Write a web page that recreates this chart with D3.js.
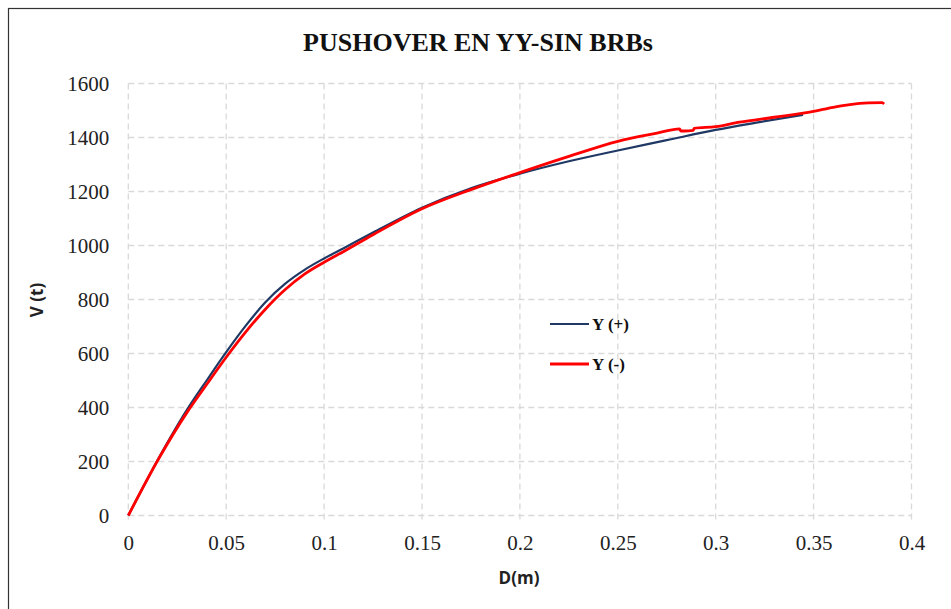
<!DOCTYPE html>
<html><head><meta charset="utf-8">
<script src="https://cdn.jsdelivr.net/npm/d3@7"></script>
<style>body{margin:0;background:#fff}svg{display:block}</style>
</head><body>
<svg id="c" width="951" height="609"></svg>
<script>
const title = "PUSHOVER EN YY-SIN BRBs";
const xTicks = [0,0.05,0.1,0.15,0.2,0.25,0.3,0.35,0.4];
const yTicks = [0,200,400,600,800,1000,1200,1400,1600];
const seriesNames = ["Y (+)","Y (-)"];
const seriesColors = ["#1f3864","#ff0000"];
const dPos = [0,0.0155,0.03,0.04,0.05,0.06,0.07,0.08,0.09,0.1,0.11,0.125,0.15,0.175,0.2,0.225,0.25,0.275,0.3,0.32,0.3446];
const vPos = [0,212,392,500,605,703,790,858,910,952,990,1048,1140,1212,1266,1312,1352,1390,1428,1454,1484];
const dNeg = [0,0.0155,0.03,0.04,0.05,0.06,0.07,0.08,0.09,0.1,0.11,0.125,0.15,0.175,0.2,0.225,0.25,0.27,0.2816,0.2822,0.2838,0.2885,0.289,0.3,0.3122,0.33,0.35,0.36,0.3685,0.378,0.385,0.386];
const vNeg = [0,210,382,485,586,680,764,836,894,938,978,1040,1136,1207,1270,1330,1386,1416,1432,1424,1424,1426,1434,1440,1457,1475,1497,1512,1522,1528,1529,1524];

const svg = d3.select("#c");
const m = {l:128.3, r:911.5, t:83.5, b:515.5};
const x = d3.scaleLinear().domain([0,0.4]).range([m.l,m.r]);
const y = d3.scaleLinear().domain([0,1600]).range([m.b,m.t]);

svg.append("rect").attr("x",8.5).attr("y",8.5).attr("width",960).attr("height",620)
  .attr("fill","none").attr("stroke","#333").attr("stroke-width",1.2);

const grid = svg.append("g");
grid.selectAll("line.h").data(yTicks).join("line")
  .attr("x1",m.l).attr("x2",m.r).attr("y1",d=>y(d)).attr("y2",d=>y(d))
  .attr("stroke","#d9d9d9").attr("stroke-width",1.3).attr("stroke-dasharray","6,4");
grid.selectAll("line.v").data(xTicks).join("line")
  .attr("x1",d=>x(d)).attr("x2",d=>x(d)).attr("y1",m.t).attr("y2",m.b+6)
  .attr("stroke","#d9d9d9").attr("stroke-width",1.3).attr("stroke-dasharray","6,4");

const fmt = d=>String(d);
const xa = svg.append("g").attr("transform",`translate(0,${m.b})`)
  .call(d3.axisBottom(x).tickValues(xTicks).tickFormat(fmt).tickSize(0).tickPadding(20));
xa.select(".domain").remove();
xa.selectAll("text").attr("font-family","Liberation Serif").attr("font-size",21).attr("fill","#222");
const ya = svg.append("g").attr("transform",`translate(${m.l},0)`)
  .call(d3.axisLeft(y).tickValues(yTicks).tickFormat(fmt).tickSize(0).tickPadding(19));
ya.select(".domain").remove();
ya.selectAll("text").attr("font-family","Liberation Serif").attr("font-size",21).attr("fill","#222");

svg.append("text").attr("x",478).attr("y",51).attr("text-anchor","middle")
  .attr("font-family","Liberation Serif").attr("font-weight","bold").attr("font-size",26).attr("fill","#111").text(title);
svg.append("text").attr("x",519).attr("y",584).attr("text-anchor","middle")
  .attr("font-family","Open Sans").attr("font-weight","bold").attr("font-size",17).attr("fill","#222").text("D(m)");
svg.append("text").attr("transform","translate(43,300) rotate(-90)").attr("text-anchor","middle")
  .attr("font-family","Open Sans").attr("font-weight","bold").attr("font-size",17).attr("fill","#222").text("V (t)");

const line = d3.line().x(d=>x(d[0])).y(d=>y(d[1])).curve(d3.curveMonotoneX);
const pos = dPos.map((d,i)=>[d,vPos[i]]);
const neg = dNeg.map((d,i)=>[d,vNeg[i]]);
svg.append("path").datum(pos).attr("d",line).attr("fill","none")
  .attr("stroke",seriesColors[0]).attr("stroke-width",2.2);
svg.append("path").datum(neg).attr("d",line).attr("fill","none")
  .attr("stroke",seriesColors[1]).attr("stroke-width",2.8).attr("stroke-linejoin","round");

const lg = svg.append("g");
seriesNames.forEach((n,i)=>{
  const yy = 324 + i*40;
  lg.append("line").attr("x1",550).attr("x2",589).attr("y1",yy).attr("y2",yy)
    .attr("stroke",seriesColors[i]).attr("stroke-width",i?2.8:2.2);
  lg.append("text").attr("x",592).attr("y",yy+6).attr("font-family","Liberation Serif")
    .attr("font-weight","bold").attr("font-size",17).attr("fill","#111").text(n);
});
</script>
</body></html>
